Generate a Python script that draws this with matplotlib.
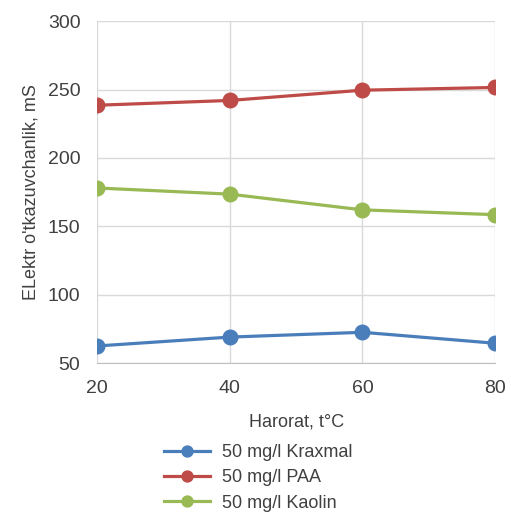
import matplotlib.pyplot as plt

plt.rcParams['font.family'] = ['Liberation Sans', 'DejaVu Sans']

temp = [20, 40, 60, 80]
kraxmal = [62.5, 69, 72.5, 64.5]
paa = [238.5, 242, 249.5, 251.5]
kaolin = [178, 173.5, 162, 158.5]
labels = ['50 mg/l Kraxmal', '50 mg/l PAA', '50 mg/l Kaolin']
colors = ['#4a7ebb', '#be4b48', '#98b954']

fig = plt.figure(figsize=(5.11, 5.15), dpi=100)
ax = fig.add_axes([0.19, 0.295, 0.779, 0.664])

for vals, lab, c in zip([kraxmal, paa, kaolin], labels, colors):
    ax.plot(temp, vals, color=c, lw=2.3, marker='o', ms=10.5, label=lab)

ax.set_xlim(20, 80)
ax.set_ylim(50, 300)
ax.set_xticks([20, 40, 60, 80])
ax.set_yticks([50, 100, 150, 200, 250, 300])
ax.grid(True, color='#d9d9d9', lw=1)
ax.set_axisbelow(True)
for s in ['top', 'right', 'left']:
    ax.spines[s].set_visible(False)
ax.spines['bottom'].set_color('#bfbfbf')
ax.tick_params(length=0, labelsize=14, colors='#404040', pad=12)
for lbl in ax.get_xticklabels() + ax.get_yticklabels():
    lbl.set_clip_on(False)

ax.set_xlabel('Harorat, t°C', fontsize=13, color='#404040', labelpad=12)
ax.set_ylabel("ELektr o'tkazuvchanlik, mS", fontsize=13, color='#404040', labelpad=6)

ax.legend(loc='upper center', bbox_to_anchor=(0.405, -0.19), frameon=False,
          fontsize=13, handlelength=2.55, labelspacing=0.45, handletextpad=0.7,
          markerscale=0.75, labelcolor='#404040')

plt.savefig('out.png', dpi=100)
